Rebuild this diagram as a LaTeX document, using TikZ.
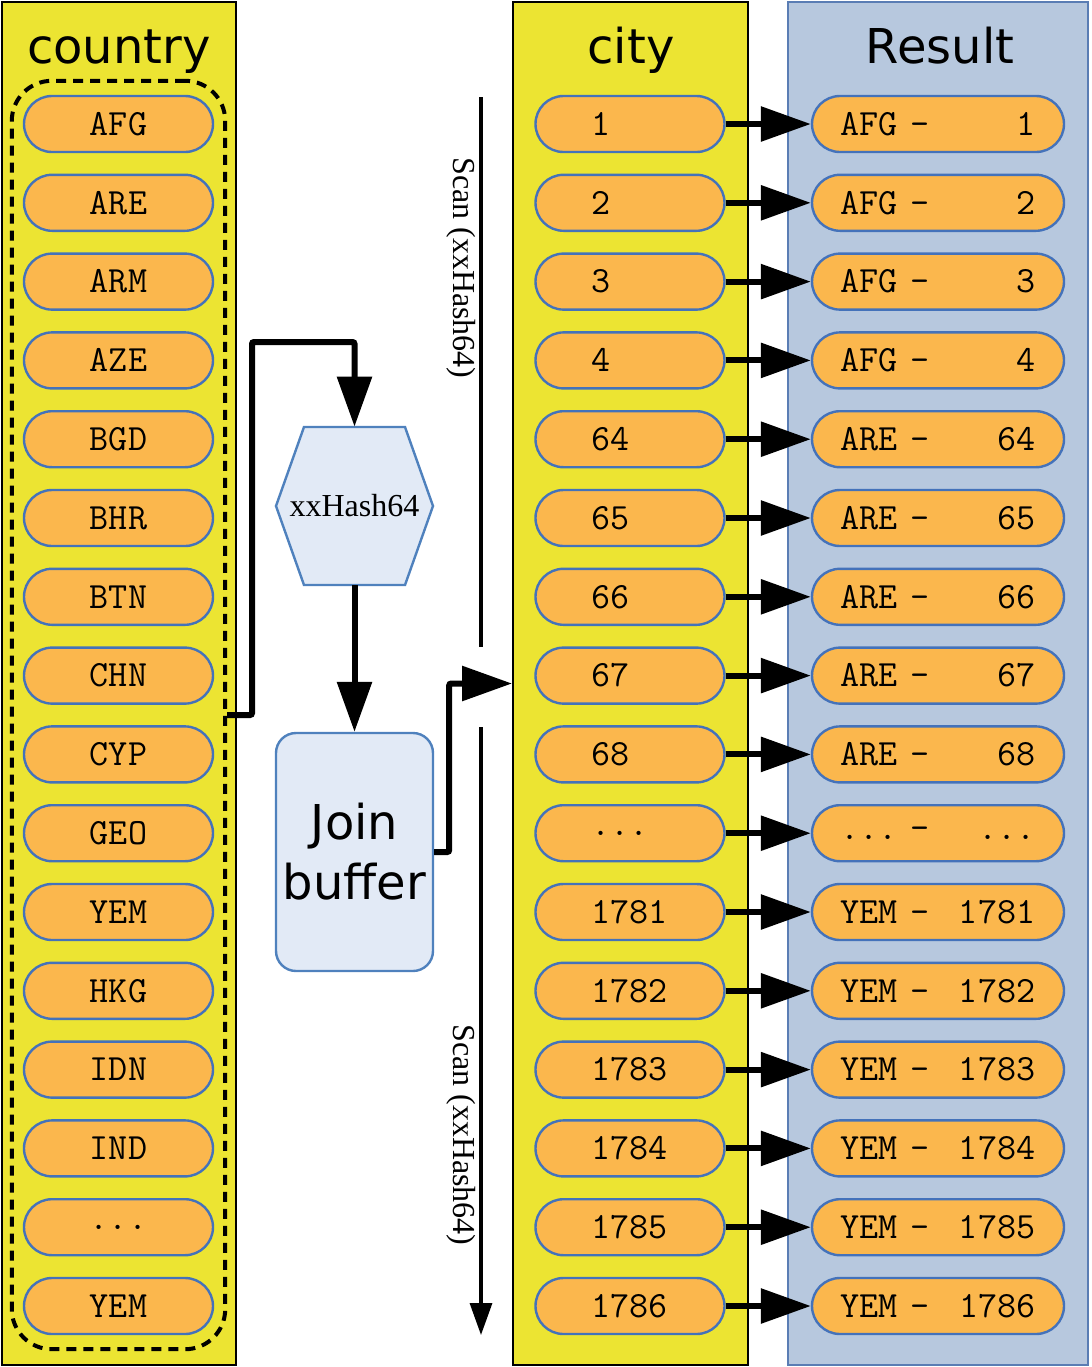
\documentclass[tikz,border=0pt]{standalone}
\usepackage{fontspec}
\setmainfont{Liberation Serif}
\setsansfont{DejaVu Sans}
\usetikzlibrary{arrows.meta,positioning,fit}
\definecolor{tableYellow}{RGB}{236,228,50}
\definecolor{resultBlue}{RGB}{183,200,222}
\definecolor{resultEdge}{RGB}{90,125,180}
\definecolor{rowOrange}{RGB}{251,183,77}
\definecolor{rowEdge}{RGB}{68,114,186}
\definecolor{bufferFill}{RGB}{226,234,246}
\definecolor{bufferEdge}{RGB}{79,129,189}
\newcommand\rowdots{...}

\begin{document}
\begin{tikzpicture}[
  x=0.5pt,y=-0.5pt,
  tablecol/.style={
    draw=black,
    line width=1pt,
    minimum width=#1,
    minimum height=681.5pt,
    inner sep=0pt
  },
  title/.style={anchor=base,font=\sffamily\fontsize{24}{28}\selectfont},
  row/.style={
    draw=rowEdge,
    line width=1.2pt,
    fill=rowOrange,
    rounded corners=14pt,
    minimum height=28pt,
    inner sep=0pt,
    font=\ttfamily\fontsize{18.5}{20}\selectfont
  },
  key/.style={row,minimum width=94.5pt},
  cityrow/.style={row,minimum width=94.5pt,text width=38.9pt,align=left},
  resrow/.style={row,minimum width=126pt,text width=97.2pt,align=left},
  group/.style={
    draw,
    line width=2pt,
    dash pattern=on 5pt off 3.5pt,
    rounded corners=20pt,
    inner xsep=5.5pt,
    inner ysep=7pt
  },
  hexedge/.style={draw=bufferEdge,fill=bufferFill,line width=1.2pt},
  buffer/.style={
    draw=bufferEdge,
    fill=bufferFill,
    line width=1.2pt,
    rounded corners=10pt,
    minimum width=78.5pt,
    minimum height=119pt,
    inner sep=0pt,
    align=center,
    font=\sffamily\fontsize{24}{30}\selectfont
  },
  flow/.style={-{Triangle[length=25pt,width=17pt]},line width=3pt},
  scan/.style={line width=1.6pt},
  scanlbl/.style={rotate=-90,font=\fontsize{16}{18}\selectfont}
]
  \useasboundingbox (0,0) rectangle (1092,1367);

  % the three tables
  \node[tablecol=117pt,fill=tableYellow] (countrycol) at (119,683.5) {};
  \node[tablecol=117.5pt,fill=tableYellow] (citycol) at (630.5,683.5) {};
  \node[tablecol=150pt,fill=resultBlue,draw=resultEdge] (resultcol) at (938,683.5) {};
  \node[title] (countrytitle) at (119,63) {country};
  \node[title] (citytitle) at (631,63) {city};
  \node[title] (resulttitle) at (940,63) {Result};

  \foreach \cc [count=\i] in {AFG,ARE,ARM,AZE,BGD,BHR,BTN,CHN,CYP,GEO,YEM,HKG,IDN,IND,\rowdots,YEM}
    \node[key] (c\i) at (118.5,{124+(\i-1)*78.8}) {\cc};
  \node[group,fit=(c1)(c16)] (countries) {};

  \foreach \id/\cc [count=\i] in {1/AFG,2/AFG,3/AFG,4/AFG,64/ARE,65/ARE,66/ARE,67/ARE,68/ARE,
      \rowdots/\rowdots,1781/YEM,1782/YEM,1783/YEM,1784/YEM,1785/YEM,1786/YEM} {
    \node[cityrow] (t\i) at (630,{124+(\i-1)*78.8}) {\id};
    \node[resrow] (r\i) at (938,{124+(\i-1)*78.8}) {\cc\ -\hfill\id};
    \draw[flow] (t\i.east) -- (r\i.west);
  }

  % hash and join buffer
  \coordinate (hashc) at (354.5,506);
  \draw[hexedge] (hashc) ++(-50.5,-79) -- ++(101,0) -- ++(28,79)
    -- ++(-28,79) -- ++(-101,0) -- ++(-28,-79) -- cycle;
  \node[minimum height=79pt,inner sep=0pt,font=\fontsize{16}{18}\selectfont] (hash) at (hashc) {xxHash64};
  \node[buffer] (buffer) at (354.5,852) {Join\\buffer};

  \coordinate (hook) at (252,342);
  \draw[flow,rounded corners=1pt] (countries.east) -| (hook) -| (hash.north);
  \draw[flow] (hash.south) -- (buffer.north);
  \draw[flow,rounded corners=1pt] (buffer.east) -- ++(15,0) |- (citycol.west);

  % scan direction
  \coordinate (scanA) at (481,97);
  \coordinate (scanB) at (481,647);
  \coordinate (scanC) at (481,727);
  \coordinate (scanD) at (481,1335);
  \draw[scan] (scanA) -- (scanB);
  \draw[scan,-{Triangle[length=16pt,width=11pt]}] (scanC) -- (scanD);
  \node[scanlbl] (scan1) at (461,268) {Scan (xxHash64)};
  \node[scanlbl] (scan2) at (461,1135) {Scan (xxHash64)};
\end{tikzpicture}
\end{document}
